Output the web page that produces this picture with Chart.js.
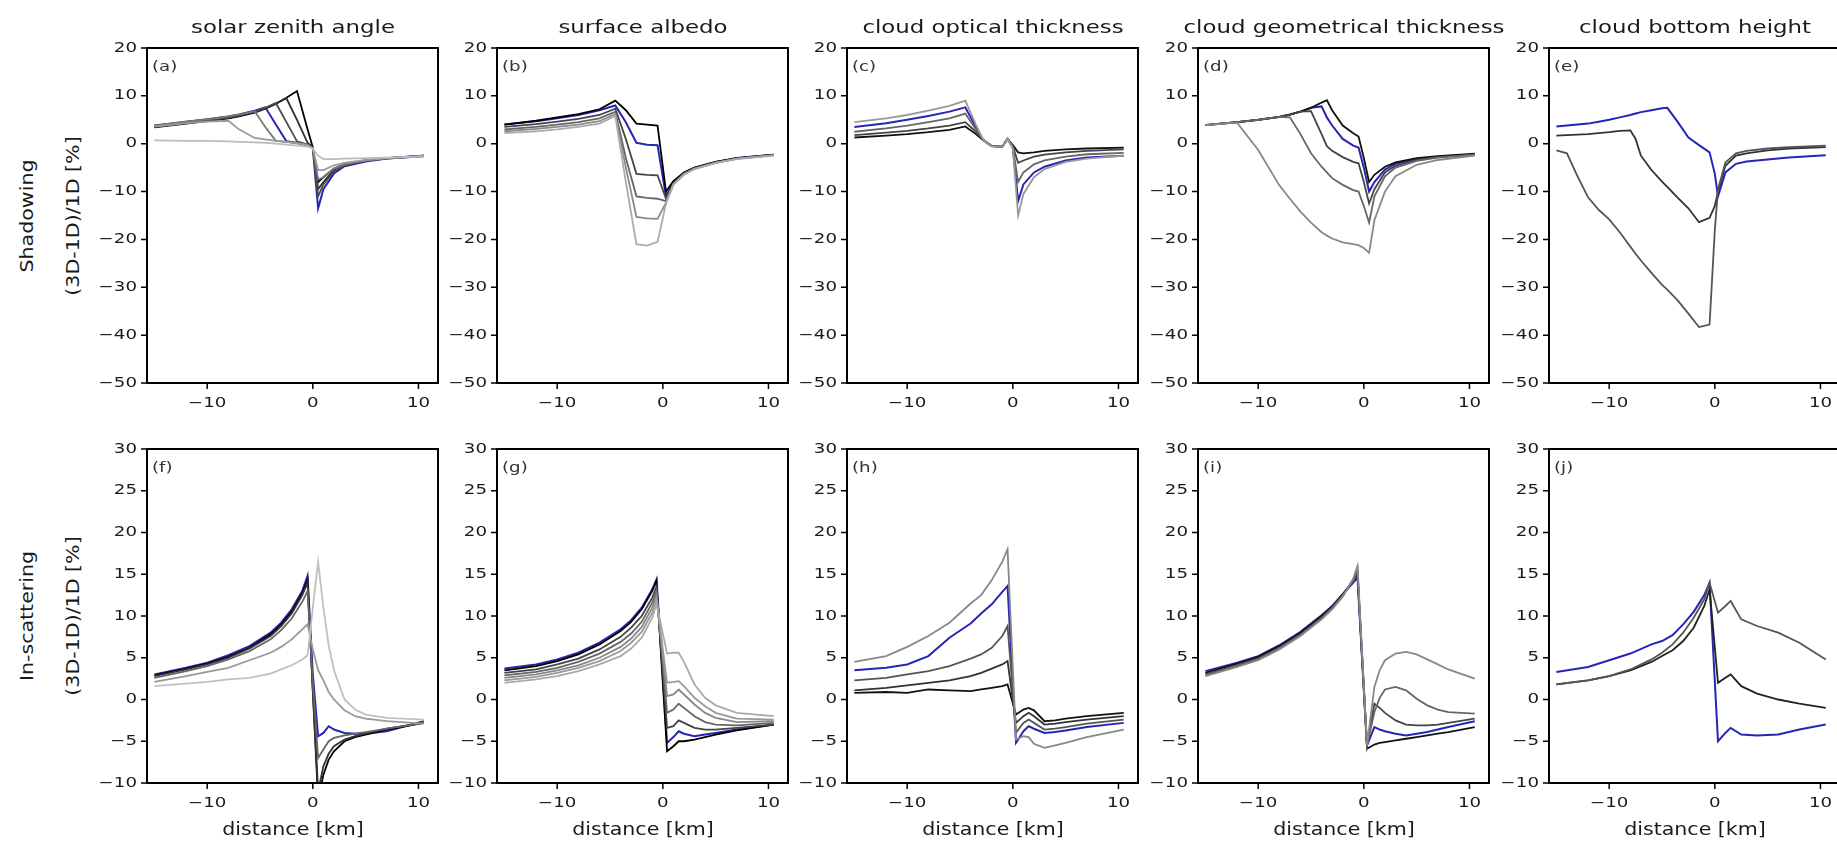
<!DOCTYPE html>
<html>
<head>
<meta charset="utf-8">
<script src="https://cdn.jsdelivr.net/npm/chart.js@4.4.1/dist/chart.umd.min.js"></script>
<style>
  body { margin: 0; background: #fff; width: 1837px; height: 841px; overflow: hidden; position: relative;
         font-family: "DejaVu Sans", sans-serif; color: #1a1a1a; }
  canvas { position: absolute; }
  .txt { position: absolute; white-space: nowrap; line-height: 1; }
</style>
</head>
<body>
<script>
// --- DATA ---
const titles = ['solar zenith angle', 'surface albedo', 'cloud optical thickness', 'cloud geometrical thickness', 'cloud bottom height'];
const rowNames = ['Shadowing', 'In-scattering'];
const yUnit = '(3D-1D)/1D [%]';
const xLabel = 'distance [km]';
const xTicks = [-10, 0, 10];
const yTicksTop = [-50, -40, -30, -20, -10, 0, 10, 20];
const yTicksBottom = [-10, -5, 0, 5, 10, 15, 20, 25, 30];

// (a) solar zenith angle, shadowing
const dist_a = [-15,-12,-10,-8,-7,-5.5,-4.5,-3.5,-2.5,-1.5,-0.5,0,0.5,1,2,3,5,7,10.5];
const a1 = [3.4,4.2,4.7,5.3,5.7,6.5,7.3,8.3,9.6,11,3,-0.8,-8,-7,-5.2,-4.3,-3.5,-3,-2.5];
const a2 = [3.5,4.3,4.8,5.4,5.8,6.6,7.4,8.4,9.5,5,0.2,-0.8,-9.5,-8,-5.5,-4.4,-3.5,-3,-2.5];
const a3 = [3.6,4.4,4.9,5.5,5.9,6.7,7.5,8.5,4.5,0.5,-0.2,-0.9,-11,-8.5,-5.8,-4.5,-3.6,-3.1,-2.6];
const a4 = [3.8,4.6,5.1,5.7,6.1,6.9,7.6,4,0.5,0.2,-0.3,-1,-13.5,-9.5,-6.2,-4.7,-3.7,-3.1,-2.6];
const a5 = [3.8,4.6,5.1,5.7,6.1,6.8,3.5,0.6,0.4,0.1,-0.3,-1,-7.5,-7,-5.2,-4.3,-3.5,-3,-2.5];
const a6 = [3.6,4.3,4.6,4.8,3,1.2,0.9,0.6,0.4,0.1,-0.3,-1,-5.5,-5.5,-4.5,-4,-3.4,-3,-2.6];
const a7 = [0.7,0.6,0.6,0.5,0.4,0.3,0.2,0,-0.2,-0.4,-0.6,-1,-2.5,-3.2,-3.2,-3.1,-3,-2.9,-2.7];

// (b) surface albedo, shadowing
const dist_b = [-15,-12,-10,-8,-6,-4.5,-3.5,-2.5,-1.5,-0.5,0.3,1,2,3,5,7,10.5];
const b1 = [4,4.8,5.5,6.2,7.2,9,7,4.2,4,3.8,-10,-7.8,-6,-5,-3.8,-3,-2.3];
const b2 = [4,4.7,5.3,6,7,8,4.5,0.2,-0.2,-0.3,-11,-8,-6.1,-5,-3.8,-3,-2.3];
const b3 = [3.5,4.1,4.6,5.2,6,7.3,1,-6.3,-6.5,-6.6,-11.5,-8.2,-6.2,-5.1,-3.9,-3.1,-2.4];
const b4 = [3,3.5,4,4.5,5.3,6.7,-3,-11,-11.3,-11.5,-12,-8.4,-6.3,-5.2,-4,-3.1,-2.4];
const b5 = [2.6,3.1,3.5,4,4.7,6.2,-5,-15.3,-15.6,-15.7,-12.3,-8.5,-6.4,-5.2,-4,-3.1,-2.4];
const b6 = [2.2,2.6,3,3.5,4.2,5.8,-8,-21,-21.3,-20.5,-12.5,-8.6,-6.5,-5.3,-4,-3.2,-2.5];

// (c) cloud optical thickness, shadowing
const dist_c = [-15,-12,-10,-8,-6,-4.5,-3.5,-2.8,-2,-1,-0.5,0,0.5,1,2,3,5,7,10.5];
const c1 = [1.3,1.7,2,2.4,2.9,3.6,2,0.7,-0.5,-0.6,1,-0.3,-1.8,-2,-1.8,-1.5,-1.2,-1,-0.8];
const c2 = [1.8,2.3,2.7,3.2,3.8,4.5,2.5,0.8,-0.5,-0.6,1,-0.5,-4,-3.5,-2.7,-2.3,-1.8,-1.5,-1.2];
const c3 = [2.5,3.2,3.8,4.5,5.3,6.3,3,0.8,-0.5,-0.6,1,-0.7,-8,-6,-4.3,-3.5,-2.7,-2.2,-1.9];
const c4 = [3.5,4.3,5,5.8,6.7,7.6,3.5,0.8,-0.5,-0.6,1,-0.8,-12,-8.5,-6,-4.8,-3.5,-2.9,-2.5];
const c5 = [4.5,5.3,6,6.9,7.9,9,4,0.8,-0.5,-0.6,1,-1,-15,-10.5,-7,-5.3,-3.8,-3.1,-2.5];

// (d) cloud geometrical thickness, shadowing
const dist_d = [-15,-12,-10,-8,-7,-6,-5,-4,-3.5,-3,-2,-1,-0.5,0,0.5,1,2,3,5,7,10.5];
const d1 = [3.9,4.5,5,5.6,6.1,6.7,7.5,8.6,9.1,7,3.8,2.2,1.5,-3,-8,-6.5,-4.8,-3.9,-3,-2.6,-2.1];
const d2 = [3.9,4.5,5,5.6,6.1,6.7,7.5,7.8,5.5,3.8,1,-0.4,-0.8,-5,-10,-8,-5.4,-4.2,-3.2,-2.7,-2.2];
const d3 = [3.9,4.5,5,5.6,6.1,6.7,6.8,2,-0.5,-1.5,-2.8,-3.8,-4.1,-8,-12.5,-9.5,-6,-4.6,-3.4,-2.8,-2.3];
const d4 = [3.9,4.5,5,5.6,5.5,2,-2,-4.8,-6,-7.2,-8.6,-9.7,-10,-13,-16.5,-11,-6.8,-5,-3.6,-2.9,-2.3];
const d5 = [3.9,4.4,-1.3,-8.7,-11.5,-14.2,-16.5,-18.5,-19.2,-19.8,-20.6,-21,-21.2,-21.8,-22.8,-16,-10,-6.8,-4.4,-3.4,-2.5];

// (e) cloud bottom height, shadowing
const dist_e = [-15,-14,-13,-12,-11,-10,-9,-8,-7.5,-7,-6,-5,-4.5,-3.5,-2.5,-1.5,-0.5,0,0.3,1,2,3,5,7,10.5];
const e1 = [3.6,3.8,4,4.2,4.6,5,5.5,6,6.3,6.6,7,7.4,7.5,4.5,1.3,-0.3,-1.8,-6.3,-11,-6,-4.2,-3.7,-3.3,-2.9,-2.4];
const e2 = [1.7,1.8,1.9,2,2.2,2.4,2.7,2.8,1,-2.5,-5.5,-7.9,-9,-11.3,-13.5,-16.4,-15.5,-13,-10,-4.6,-2.5,-2,-1.4,-1,-0.7];
const e3 = [-1.4,-2,-6.8,-11.2,-13.8,-15.8,-18.5,-21.5,-23,-24.4,-27,-29.5,-30.5,-32.8,-35.5,-38.3,-37.8,-18,-9.5,-3.9,-2,-1.5,-1,-0.7,-0.4];

// (f) solar zenith angle, in-scattering
const dist_f = [-15,-12,-10,-8,-6,-4,-3,-2,-1,-0.5,0,0.5,1,1.5,2,3,4,5,7,10.5];
const f1 = [2.9,3.7,4.3,5.1,6.2,7.8,9,10.5,12.8,14.3,1,-12,-9,-7.2,-6.2,-5,-4.5,-4.2,-3.6,-2.8];
const f2 = [2.8,3.6,4.2,5,6.1,7.6,8.8,10.3,12.5,14,1,-11,-8,-6.5,-5.6,-4.8,-4.4,-4.1,-3.5,-2.8];
const f3 = [3,3.8,4.4,5.3,6.4,8,9.2,10.8,13,14.8,3,-4.4,-4,-3.2,-3.6,-4,-4.1,-4.1,-3.8,-2.6];
const f4 = [2.6,3.4,4,4.8,5.8,7.2,8.3,9.7,11.7,13,2,-7,-6,-5,-4.6,-4.3,-4.1,-3.9,-3.5,-2.8];
const f5 = [2.1,2.8,3.3,3.8,4.7,5.6,6.3,7.2,8.4,9,6,3.5,2.3,0.9,0,-1.3,-2,-2.3,-2.6,-2.9];
const f6 = [1.6,1.9,2.1,2.4,2.6,3.1,3.6,4.1,4.8,5.3,11,16.5,11,6.5,3.5,0,-1.2,-1.8,-2.2,-2.4];

// (g) surface albedo, in-scattering
const dist_g = [-15,-12,-10,-8,-6,-4,-3,-2,-1,-0.6,0.4,1,1.5,2,3,4,5,7,10.5];
const g1 = [3.5,4,4.6,5.4,6.6,8.2,9.3,10.8,13,14.2,-6.2,-5.6,-5,-5,-4.8,-4.5,-4.2,-3.7,-3];
const g2 = [3.7,4.2,4.8,5.6,6.8,8.4,9.5,11,13.2,14.4,-5.2,-4.5,-3.8,-4.1,-4.4,-4.2,-4,-3.6,-3];
const g3 = [3.2,3.6,4.2,4.9,6,7.5,8.6,10,12.2,13.5,-3.4,-3.2,-2.5,-2.8,-3.4,-3.6,-3.6,-3.4,-3];
const g4 = [2.9,3.3,3.8,4.5,5.5,6.9,7.9,9.3,11.6,13,-1.6,-1.2,-0.5,-1,-2,-2.7,-3,-3.1,-2.8];
const g5 = [2.6,3,3.5,4.1,5,6.3,7.3,8.7,11,12.5,0.4,0.6,1.2,0.6,-0.6,-1.6,-2.2,-2.7,-2.6];
const g6 = [2.3,2.7,3.2,3.8,4.6,5.8,6.8,8.1,10.4,12,2,2.1,2.2,1.6,0.2,-0.8,-1.6,-2.3,-2.4];
const g7 = [2,2.4,2.8,3.4,4.2,5.2,6.1,7.4,9.8,11.5,5.5,5.6,5.6,4.5,1.8,0.2,-0.7,-1.6,-2];

// (h) cloud optical thickness, in-scattering
const dist_h = [-15,-12,-10,-8,-6,-4,-3,-2,-1,-0.5,0.3,1,1.5,2,3,4,5,7,10.5];
const h1 = [0.8,0.9,0.8,1.2,1.1,1,1.2,1.4,1.6,1.8,-1.8,-1.2,-1,-1.3,-2.6,-2.5,-2.3,-2,-1.6];
const h2 = [1.1,1.4,1.7,2,2.3,2.8,3.2,3.7,4.2,4.6,-2.8,-2,-1.6,-2,-3,-2.9,-2.7,-2.4,-2];
const h3 = [2.3,2.6,3,3.4,4,4.9,5.4,6.2,7.6,8.8,-4,-2.8,-2.4,-2.8,-3.6,-3.5,-3.3,-2.9,-2.4];
const h4 = [3.5,3.8,4.2,5.2,7.4,9.1,10.3,11.4,12.9,13.6,-5.2,-3.8,-3.2,-3.5,-4,-3.9,-3.7,-3.3,-2.8];
const h5 = [4.5,5.2,6.3,7.6,9.2,11.5,12.5,14.3,16.5,18,-4.8,-4.4,-4.5,-5.3,-5.8,-5.5,-5.2,-4.5,-3.6];

// (i) cloud geometrical thickness, in-scattering
const dist_i = [-15,-12,-10,-8,-6,-4,-3,-2,-1,-0.6,0.3,1,1.5,2,3,4,5,6,7,8,10.5];
const i1 = [3.2,4.3,5.1,6.4,8,10,11.1,12.6,14.3,15,-5.9,-5.4,-5.2,-5.1,-4.9,-4.7,-4.5,-4.3,-4.1,-3.9,-3.3];
const i2 = [3.4,4.4,5.2,6.5,8.1,10.1,11.2,12.6,14,14.6,-5.5,-3.3,-3.6,-3.8,-4.1,-4.3,-4.1,-3.9,-3.6,-3.3,-2.6];
const i3 = [3,4.1,4.9,6.2,7.8,9.8,11,12.5,14.2,15.2,-5.5,-0.5,-1,-1.6,-2.5,-3,-3.1,-3.1,-3,-2.8,-2.3];
const i4 = [2.9,4,4.8,6.1,7.7,9.7,10.9,12.4,14.3,15.6,-5.5,-1.5,0.2,1.2,1.5,1.1,0.1,-0.7,-1.2,-1.5,-1.7];
const i5 = [2.8,3.9,4.7,6,7.6,9.6,10.8,12.3,14.5,16,-5.5,1.5,3.5,4.7,5.5,5.7,5.4,4.8,4.2,3.6,2.5];

// (j) cloud bottom height, in-scattering
const dist_j = [-15,-12,-10,-8,-6,-5,-4,-3,-2,-1,-0.5,0.3,1,1.5,2.5,4,6,8,10.5];
const j1 = [3.3,3.9,4.7,5.5,6.6,7,7.7,9,10.5,12.5,14,-5,-4,-3.4,-4.2,-4.3,-4.2,-3.6,-3];
const j2 = [1.8,2.3,2.8,3.5,4.5,5.2,5.9,7,8.6,11.2,13.2,2,2.6,3,1.6,0.7,0,-0.5,-1];
const j3 = [1.8,2.3,2.8,3.6,4.8,5.6,6.6,8,9.8,12,14,10.4,11.2,11.8,9.6,8.8,8,6.8,4.8];

// --- LAYOUT ---
const BLUE = '#2626b4';
const colLeft = [147, 497, 847, 1198, 1549];
const plotW = 291;
const rowTop = [48, 449];
const plotH = [335, 334];
const PAD = { left: 60, top: 12, right: 14, bottom: 36 };

// lines listed in draw order: light first, blue last
const panels = [
  { row: 0, col: 0, x: dist_a, lines: [[a7,'#bdbdbd'],[a6,'#9a9a9a'],[a5,'#777'],[a3,'#4a4a4a'],[a2,'#2e2e2e'],[a1,'#000'],[a4,BLUE]] },
  { row: 0, col: 1, x: dist_b, lines: [[b6,'#ababab'],[b5,'#8a8a8a'],[b4,'#666'],[b3,'#444'],[b1,'#000'],[b2,BLUE]] },
  { row: 0, col: 2, x: dist_c, lines: [[c5,'#999'],[c3,'#666'],[c2,'#444'],[c1,'#111'],[c4,BLUE]] },
  { row: 0, col: 3, x: dist_d, lines: [[d5,'#888'],[d4,'#666'],[d3,'#444'],[d1,'#111'],[d2,BLUE]] },
  { row: 0, col: 4, x: dist_e, lines: [[e3,'#555'],[e2,'#333'],[e1,BLUE]] },
  { row: 1, col: 0, x: dist_f, lines: [[f6,'#c0c0c0'],[f5,'#999'],[f4,'#666'],[f2,'#333'],[f1,'#000'],[f3,BLUE]] },
  { row: 1, col: 1, x: dist_g, lines: [[g7,'#aaa'],[g6,'#999'],[g5,'#888'],[g4,'#666'],[g3,'#444'],[g1,'#000'],[g2,BLUE]] },
  { row: 1, col: 2, x: dist_h, lines: [[h5,'#888'],[h3,'#555'],[h2,'#333'],[h1,'#111'],[h4,BLUE]] },
  { row: 1, col: 3, x: dist_i, lines: [[i5,'#888'],[i4,'#666'],[i3,'#444'],[i1,'#111'],[i2,BLUE]] },
  { row: 1, col: 4, x: dist_j, lines: [[j3,'#555'],[j2,'#222'],[j1,BLUE]] }
];

const fmt = v => String(v).replace('-', '\u2212');

function addText(str, cx, cy, size, sx, rotate) {
  const d = document.createElement('div');
  d.className = 'txt';
  d.textContent = str;
  d.style.left = cx + 'px';
  d.style.top = cy + 'px';
  d.style.fontSize = size + 'px';
  d.style.transform = 'translate(-50%,-50%)' + (rotate ? ' rotate(-90deg)' : '') + ' scaleX(' + sx + ')';
  document.body.appendChild(d);
}

// frame, ticks and tick labels drawn from the chart's own scales
function drawFrame(chart, p, letter) {
  const { ctx, chartArea: a } = chart;
  const xs = chart.scales.x, ys = chart.scales.y;
  const yTicks = p.row === 0 ? yTicksTop : yTicksBottom;
  ctx.save();
  ctx.strokeStyle = '#000';
  ctx.lineWidth = 2;
  ctx.strokeRect(a.left, a.top, a.right - a.left, a.bottom - a.top);
  ctx.lineWidth = 1.5;
  ctx.beginPath();
  yTicks.forEach(v => {
    const py = ys.getPixelForValue(v);
    ctx.moveTo(a.left - 6, py); ctx.lineTo(a.left, py);
  });
  xTicks.forEach(v => {
    const px = xs.getPixelForValue(v);
    ctx.moveTo(px, a.bottom); ctx.lineTo(px, a.bottom + 6);
  });
  ctx.stroke();

  ctx.fillStyle = '#1a1a1a';
  ctx.font = '14px "DejaVu Sans"';
  ctx.textBaseline = 'middle';
  yTicks.forEach(v => {
    ctx.save();
    ctx.translate(a.left - 10, ys.getPixelForValue(v));
    ctx.scale(1.3, 1);
    ctx.textAlign = 'right';
    ctx.fillText(fmt(v), 0, 0);
    ctx.restore();
  });
  xTicks.forEach(v => {
    ctx.save();
    ctx.translate(xs.getPixelForValue(v), a.bottom + 20);
    ctx.scale(1.3, 1);
    ctx.textAlign = 'center';
    ctx.fillText(fmt(v), 0, 0);
    ctx.restore();
  });
  ctx.save();
  ctx.fillStyle = '#333';
  ctx.translate(a.left + 5, a.top + 19);
  ctx.scale(1.3, 1);
  ctx.textAlign = 'left';
  ctx.fillText('(' + letter + ')', 0, 0);
  ctx.restore();
  ctx.restore();
}

panels.forEach((p, k) => {
  const cv = document.createElement('canvas');
  const w = plotW + PAD.left + PAD.right, h = plotH[p.row] + PAD.top + PAD.bottom;
  cv.width = w; cv.height = h;
  cv.style.width = w + 'px'; cv.style.height = h + 'px';
  cv.style.left = (colLeft[p.col] - PAD.left) + 'px';
  cv.style.top = (rowTop[p.row] - PAD.top) + 'px';
  document.body.appendChild(cv);

  const datasets = p.lines.map(([ys, color]) => ({
    data: p.x.map((x, i) => ({ x: x, y: ys[i] })),
    borderColor: color,
    borderWidth: color === BLUE ? 2 : 1.8,
    pointRadius: 0,
    tension: 0,
    fill: false
  }));

  const letter = 'abcdefghij'[k];
  new Chart(cv, {
    type: 'line',
    data: { datasets },
    options: {
      responsive: false,
      animation: false,
      events: [],
      layout: { padding: PAD },
      plugins: { legend: { display: false }, tooltip: { enabled: false } },
      scales: {
        x: { type: 'linear', min: -15.7, max: 11.85, display: false },
        y: { type: 'linear', min: p.row === 0 ? -50 : -10, max: p.row === 0 ? 20 : 30, display: false }
      }
    },
    plugins: [{ id: 'frame', afterDraw(chart) { drawFrame(chart, p, letter); } }]
  });
});

// --- TEXT LABELS ---
titles.forEach((t, c) => addText(t, colLeft[c] + plotW / 2, 27, 18, 1.27, false));
rowNames.forEach((r, i) => {
  const cy = rowTop[i] + plotH[i] / 2;
  addText(r, 27, cy, 17, 1.21, true);
  addText(yUnit, 73, cy, 17, 1.21, true);
});
colLeft.forEach(l => addText(xLabel, l + plotW / 2, 829, 17, 1.21, false));
</script>
</body>
</html>
